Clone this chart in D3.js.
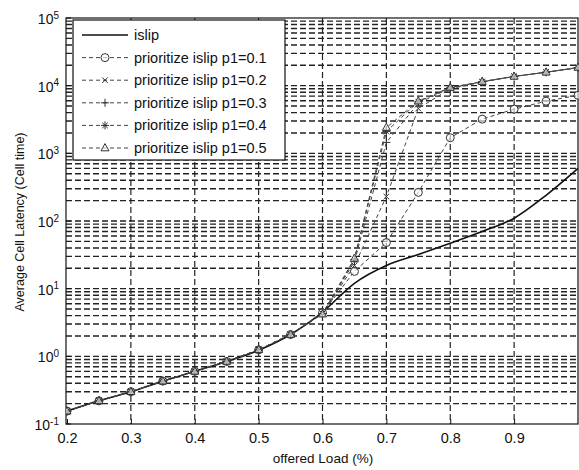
<!DOCTYPE html>
<html>
<head>
<meta charset="utf-8">
<script src="https://cdn.jsdelivr.net/npm/d3@7"></script>
<style>
  body { margin: 0; background: white; }
  text { font-family: "Liberation Sans", Arial, sans-serif; fill: #111; }
</style>
</head>
<body>
<div id="chart"></div>
<script>
// DATA =======================================
const loads = [0.2, 0.25, 0.3, 0.35, 0.4, 0.45, 0.5, 0.55, 0.6, 0.65, 0.7, 0.75, 0.8, 0.85, 0.9, 0.95, 1.0];

const islip = [0.155, 0.22, 0.30, 0.43, 0.60, 0.84, 1.23, 2.1, 4.5, 12, 22, 32, 47, 70, 110, 240, 600];
const p1_01 = [0.155, 0.22, 0.30, 0.43, 0.60, 0.84, 1.25, 2.1, 4.4, 18, 48, 265, 1700, 3200, 4500, 5900, 7200];
const p1_02 = [0.155, 0.22, 0.30, 0.43, 0.60, 0.84, 1.25, 2.1, 4.3, 22, 230, 4600, 9000, 11300, 13700, 15800, 18300];
const p1_03 = [0.155, 0.22, 0.30, 0.43, 0.60, 0.84, 1.25, 2.1, 4.3, 25, 1450, 5500, 9200, 11400, 13700, 15800, 18400];
const p1_04 = [0.155, 0.22, 0.30, 0.43, 0.60, 0.84, 1.25, 2.1, 4.3, 27, 2100, 5800, 9300, 11500, 13700, 15800, 18500];
const p1_05 = [0.155, 0.22, 0.30, 0.43, 0.60, 0.84, 1.25, 2.1, 4.2, 28, 2400, 5900, 9400, 11500, 13700, 15800, 18600];

const seriesNames = ["islip", "prioritize islip p1=0.1", "prioritize islip p1=0.2",
  "prioritize islip p1=0.3", "prioritize islip p1=0.4", "prioritize islip p1=0.5"];
const seriesValues = [islip, p1_01, p1_02, p1_03, p1_04, p1_05];
const seriesMarkers = ["none", "circle", "x", "plus", "star", "triangle"];

const xTicks = [0.2, 0.3, 0.4, 0.5, 0.6, 0.7, 0.8, 0.9];
const yExponents = [-1, 0, 1, 2, 3, 4, 5];

// SETUP ======================================
const width = 579;
const height = 470;
const margin = { top: 18, right: 1, bottom: 46, left: 66 };

const svg = d3.select("#chart")
  .append("svg")
  .attr("width", width)
  .attr("height", height);

const xScale = d3.scaleLinear()
  .domain([0.2, 1.0])
  .range([margin.left + 1, width - margin.right]);

const yScale = d3.scaleLog()
  .domain([0.1, 1e5])
  .range([height - margin.bottom, margin.top]);

const plotLeft = margin.left;
const plotRight = width - margin.right;
const plotTop = margin.top;
const plotBottom = height - margin.bottom;

// GRID =======================================
const gridVals = [];
for (let e = -1; e < 5; e++) {
  for (let k = 1; k <= 9; k++) gridVals.push(k * Math.pow(10, e));
}

svg.append("g")
  .selectAll("line")
  .data(gridVals.filter(v => v > 0.1))
  .join("line")
  .attr("x1", plotLeft)
  .attr("x2", plotRight)
  .attr("y1", d => yScale(d))
  .attr("y2", d => yScale(d))
  .attr("stroke", "#222")
  .attr("stroke-width", 1.4)
  .attr("stroke-dasharray", "6,3");

svg.append("g")
  .selectAll("line")
  .data(xTicks.slice(1))
  .join("line")
  .attr("x1", d => xScale(d))
  .attr("x2", d => xScale(d))
  .attr("y1", plotTop)
  .attr("y2", plotBottom)
  .attr("stroke", "#222")
  .attr("stroke-width", 1.2)
  .attr("stroke-dasharray", "6,3");

// AXES =======================================
svg.append("rect")
  .attr("x", plotLeft)
  .attr("y", plotTop)
  .attr("width", plotRight - plotLeft)
  .attr("height", plotBottom - plotTop)
  .attr("fill", "none")
  .attr("stroke", "#111")
  .attr("stroke-width", 1.2);

const xAxis = d3.axisBottom(xScale)
  .tickValues(xTicks)
  .tickSize(-5)
  .tickPadding(9)
  .tickFormat(d3.format(".1f"));

svg.append("g")
  .attr("transform", `translate(0, ${plotBottom})`)
  .call(xAxis)
  .call(g => g.select(".domain").remove())
  .call(g => g.selectAll("line").attr("stroke", "#111"))
  .call(g => g.selectAll("text")
    .style("font-size", "14.5px")
    .style("font-family", "'Liberation Sans', Arial, sans-serif"));

// y labels, 10 with superscript exponent
const yLabels = svg.append("g")
  .selectAll("text")
  .data(yExponents)
  .join("text")
  .attr("x", plotLeft - 7)
  .attr("y", d => yScale(Math.pow(10, d)) + 6)
  .attr("text-anchor", "end")
  .style("font-size", "14px");

yLabels.append("tspan").text("10");
yLabels.append("tspan")
  .attr("dy", "-0.55em")
  .style("font-size", "10px")
  .text(d => d);

svg.append("g")
  .selectAll("line")
  .data(yExponents)
  .join("line")
  .attr("x1", plotLeft)
  .attr("x2", plotLeft + 5)
  .attr("y1", d => yScale(Math.pow(10, d)))
  .attr("y2", d => yScale(Math.pow(10, d)))
  .attr("stroke", "#111");

svg.append("text")
  .attr("x", 323)
  .attr("y", 463)
  .attr("text-anchor", "middle")
  .style("font-size", "13.5px")
  .text("offered Load (%)");

svg.append("text")
  .attr("transform", `translate(24, 222) rotate(-90)`)
  .attr("text-anchor", "middle")
  .style("font-size", "12.5px")
  .text("Average Cell Latency (Cell time)");

// SERIES =====================================
const line = d3.line()
  .x((d, i) => xScale(loads[i]))
  .y(d => yScale(d));

const smoothLine = d3.line()
  .x((d, i) => xScale(loads[i]))
  .y(d => yScale(d))
  .curve(d3.curveMonotoneX);

svg.append("clipPath").attr("id", "plot-clip")
  .append("rect")
  .attr("x", plotLeft).attr("y", plotTop)
  .attr("width", plotRight - plotLeft + 6).attr("height", plotBottom - plotTop);

const drawMarker = (g, type, size) => {
  const s = size;
  if (type === "circle") {
    g.append("circle").attr("r", s).attr("fill", "white").attr("fill-opacity", 0.6);
  } else if (type === "x") {
    g.append("path").attr("d", `M${-s * 0.7},${-s * 0.7}L${s * 0.7},${s * 0.7}M${-s * 0.7},${s * 0.7}L${s * 0.7},${-s * 0.7}`);
  } else if (type === "plus") {
    g.append("path").attr("d", `M${-s},0L${s},0M0,${-s}L0,${s}`);
  } else if (type === "star") {
    g.append("path").attr("d", `M${-s},0L${s},0M0,${-s}L0,${s}M${-s * 0.7},${-s * 0.7}L${s * 0.7},${s * 0.7}M${-s * 0.7},${s * 0.7}L${s * 0.7},${-s * 0.7}`);
  } else if (type === "triangle") {
    g.append("path").attr("d", `M0,${-s * 1.1}L${s},${s * 0.7}L${-s},${s * 0.7}Z`).attr("fill", "white").attr("fill-opacity", 0.6);
  }
};

const plot = svg.append("g").attr("clip-path", "url(#plot-clip)");

seriesValues.forEach((vals, si) => {
  plot.append("path")
    .datum(vals)
    .attr("d", si === 0 ? smoothLine : line)
    .attr("fill", "none")
    .attr("stroke", si === 0 ? "#111" : "#444")
    .attr("stroke-width", si === 0 ? 1.6 : 1)
    .attr("stroke-dasharray", si === 0 ? null : "4,3");

  if (seriesMarkers[si] === "none") return;

  plot.append("g")
    .selectAll("g")
    .data(vals)
    .join("g")
    .attr("transform", (d, i) => `translate(${xScale(loads[i])}, ${yScale(d)})`)
    .attr("fill", "none")
    .attr("stroke", "#333")
    .attr("stroke-width", 1)
    .each(function () { drawMarker(d3.select(this), seriesMarkers[si], 4); });
});

// LEGEND =====================================
const legend = svg.append("g");

legend.append("rect")
  .attr("x", 73)
  .attr("y", 20)
  .attr("width", 212)
  .attr("height", 140)
  .attr("fill", "white")
  .attr("stroke", "#111")
  .attr("stroke-width", 1.2);

const legendRows = legend.selectAll("g.row")
  .data(seriesNames)
  .join("g")
  .attr("class", "row")
  .attr("transform", (d, i) => `translate(0, ${35 + i * 22.6})`);

legendRows.append("line")
  .attr("x1", 82)
  .attr("x2", 128)
  .attr("stroke", (d, i) => i === 0 ? "#111" : "#444")
  .attr("stroke-width", (d, i) => i === 0 ? 1.6 : 1)
  .attr("stroke-dasharray", (d, i) => i === 0 ? null : "4,3");

legendRows.each(function (d, i) {
  if (seriesMarkers[i] === "none") return;
  const g = d3.select(this).append("g")
    .attr("transform", "translate(105, 0)")
    .attr("fill", "none")
    .attr("stroke", "#333");
  drawMarker(g, seriesMarkers[i], 4);
});

legendRows.append("text")
  .attr("x", 134)
  .attr("y", 5)
  .style("font-size", "14.5px")
  .text(d => d);
</script>
</body>
</html>
